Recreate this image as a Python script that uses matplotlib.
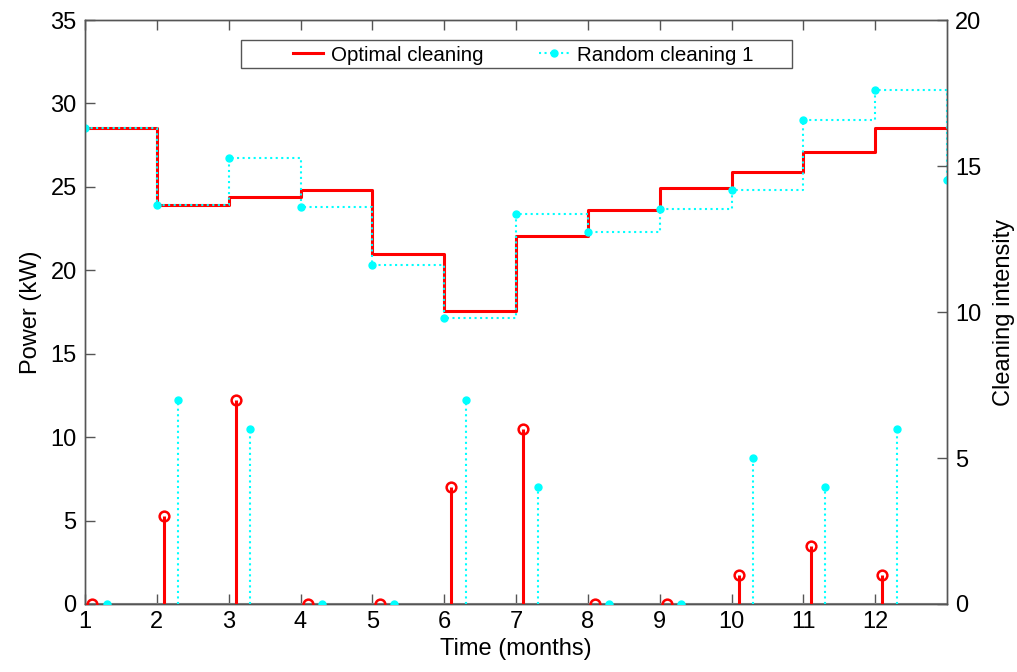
import numpy as np
import matplotlib.pyplot as plt
from matplotlib.patches import Rectangle

plt.rcParams['font.family'] = ['Liberation Sans', 'DejaVu Sans']

# monthly power levels (kW), 13 points for stairs
months = [1, 2, 3, 4, 5, 6, 7, 8, 9, 10, 11, 12, 13]
power_opt = [28.5, 23.9, 24.4, 24.8, 20.95, 17.55, 22.07, 23.6, 24.95, 25.9, 27.08, 28.5, 28.5]
power_rand = [28.5, 23.9, 26.72, 23.8, 20.3, 17.16, 23.4, 22.27, 23.65, 24.84, 28.98, 30.8, 25.44]

# cleaning intensity per month
clean_months = [1, 2, 3, 4, 5, 6, 7, 8, 9, 10, 11, 12]
clean_opt = [0, 3, 7, 0, 0, 4, 6, 0, 0, 1, 2, 1]
clean_rand = [0, 7, 6, 0, 0, 7, 4, 0, 0, 5, 4, 6]

axis_col = '#555555'

fig = plt.figure(figsize=(10.17, 6.72), dpi=100)
ax = fig.add_axes([0.0836, 0.1012, 0.8476, 0.8690])
ax2 = ax.twinx()

l1, = ax.step(months, power_opt, where='post', color='red', lw=2.2,
              label='Optimal cleaning', zorder=3)
l2, = ax.step(months, power_rand, where='post', color='cyan', lw=1.5, ls=':',
              marker='o', ms=5, label='Random cleaning 1', zorder=4)

xo = np.array(clean_months) + 0.1
xr = np.array(clean_months) + 0.3
ax2.vlines(xo, 0, clean_opt, colors='red', lw=2.2, zorder=3)
ax2.plot(xo, clean_opt, 'o', color='red', mfc='none', mew=1.8, ms=7, zorder=4)
ax2.vlines(xr, 0, clean_rand, colors='cyan', lw=1.5, linestyles=':', zorder=3)
ax2.plot(xr, clean_rand, 'o', color='cyan', ms=5, zorder=4)
ax2.axhline(0, color='#808080', lw=1.5, zorder=2)

ax.set_xlim(1, 13)
ax.set_ylim(0, 35)
ax2.set_ylim(0, 20)
ax.set_xticks(range(1, 13))
ax.set_yticks(range(0, 36, 5))
ax2.set_yticks(range(0, 21, 5))

for a in (ax, ax2):
    for s in a.spines.values():
        s.set_color(axis_col)
        s.set_linewidth(1.0)
    a.tick_params(direction='in', length=7, width=1, color=axis_col,
                  labelsize=17, labelcolor='black')
ax.tick_params(axis='x', top=True, pad=5)
ax.tick_params(axis='y', pad=6)
ax2.tick_params(axis='y', pad=6)

ax.set_xlabel('Time (months)', fontsize=17, labelpad=4)
ax.set_ylabel('Power (kW)', fontsize=17, labelpad=6)
ax2.set_ylabel('Cleaning intensity', fontsize=17, labelpad=8)

# legend box drawn separately (MATLAB-style wide padding)
box = Rectangle((0.181, 0.918), 0.639, 0.048, transform=ax2.transAxes,
                facecolor='white', edgecolor=axis_col, lw=1.0, zorder=9)
ax2.add_patch(box)
leg = ax2.legend(handles=[l1, l2], loc='center', ncol=2, fontsize=14.8,
                 bbox_to_anchor=(0.508, 0.940), borderaxespad=0, frameon=False,
                 handlelength=1.5, columnspacing=2.7, borderpad=0,
                 handletextpad=0.35)
leg.set_zorder(10)

fig.savefig('out.png', dpi=100)
